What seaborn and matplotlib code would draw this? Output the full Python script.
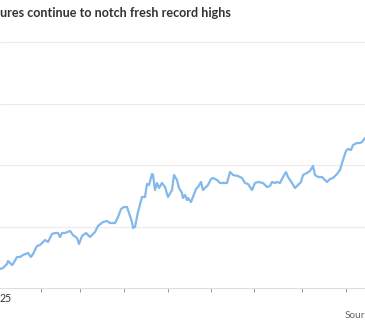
import matplotlib
matplotlib.use("Agg")
import matplotlib.pyplot as plt
import seaborn as sns
import pandas as pd
import numpy as np

# x positions (trading-day index scaled) and index level (arbitrary units, gridline every 25)
day = [0, 3, 7, 8, 12, 13, 17, 20, 23, 28, 31, 33, 37, 40, 45, 48, 52, 55, 58, 60,
       62, 65, 70, 73, 77, 79, 82, 86, 90, 95, 98, 103, 107, 110, 115, 118, 121, 124, 127, 129,
       132, 133, 135, 138, 142, 145, 147, 149, 152, 153, 155, 157, 159, 162, 165, 168, 172, 174, 177, 179,
       182, 183, 185, 187, 188, 191, 193, 196, 198, 201, 203, 205, 208, 211, 213, 217, 220, 223, 227, 230,
       233, 238, 242, 245, 248, 252, 255, 258, 263, 267, 270, 272, 275, 277, 280, 283, 286, 288, 292, 295,
       298, 301, 303, 307, 310, 313, 315, 318, 322, 325, 327, 330, 333, 337, 340, 343, 346, 348, 351, 353,
       357, 360, 362, 365]
ypix = [269, 268, 264, 261, 265, 264, 257, 257, 255, 253, 257, 254, 246, 245, 240, 242, 234, 233, 233, 237,
        233, 233, 231, 235, 238, 244, 236, 233, 237, 232, 226, 222, 221, 223, 223, 217, 209, 207, 207, 213,
        222, 228, 227, 212, 197, 197, 184, 185, 174, 175, 190, 183, 188, 183, 187, 197, 190, 175, 180, 188,
        193, 198, 195, 200, 198, 202, 197, 189, 187, 182, 190, 188, 185, 179, 178, 180, 183, 183, 183, 172,
        175, 176, 178, 183, 184, 190, 183, 182, 183, 187, 186, 182, 183, 182, 183, 177, 172, 177, 183, 188,
        185, 182, 175, 173, 171, 166, 175, 177, 177, 180, 182, 179, 178, 174, 170, 160, 151, 149, 150, 145,
        143, 143, 142, 138]
level = [round((288 - v) / 61.5 * 25, 2) for v in ypix]

tick_pos = [41, 80, 124, 168, 211, 254, 302, 346]
grid_levels = [0, 25, 50, 75, 100]

df = pd.DataFrame({"day": day, "level": level})

sns.set_theme(style="white")
plt.rcParams["font.family"] = ["Lato", "DejaVu Sans"]

W, H = 365, 330
fig = plt.figure(figsize=(W / 100, H / 100), dpi=100)
ax_top, ax_bot = 42, 288
ax = fig.add_axes([0, 1 - ax_bot / H, 1, (ax_bot - ax_top) / H])

for g in grid_levels[1:]:
    ax.axhline(g, color="#ebebeb", lw=0.8, zorder=0)

sns.lineplot(data=df, x="day", y="level", ax=ax, color="#82b8ea", lw=1.6)

ax.set_xlim(0, 365)
ax.set_ylim(0, 100)
ax.set_xlabel("")
ax.set_ylabel("")
ax.set_yticks([])
ax.set_xticks(tick_pos)
ax.set_xticklabels([""] * len(tick_pos))
ax.tick_params(axis="x", direction="out", length=3, width=0.7, color="#999999", bottom=True)
for s in ["top", "left", "right"]:
    ax.spines[s].set_visible(False)
ax.spines["bottom"].set_color("#dddddd")
ax.spines["bottom"].set_linewidth(0.8)
ax.patch.set_alpha(0)

fig.text(0 / W, 1 - 13 / H, "ures continue to notch fresh record highs", ha="left", va="center",
         fontsize=9.1, fontweight="bold", color="#333333")
fig.text(0 / W, 1 - 299 / H, "25", ha="left", va="center", fontsize=7.6, color="#333333")
fig.text(1, 1 - 315 / H, "Sour", ha="right", va="center", fontsize=7.2, color="#666666")

fig.savefig("out.png", dpi=100)
